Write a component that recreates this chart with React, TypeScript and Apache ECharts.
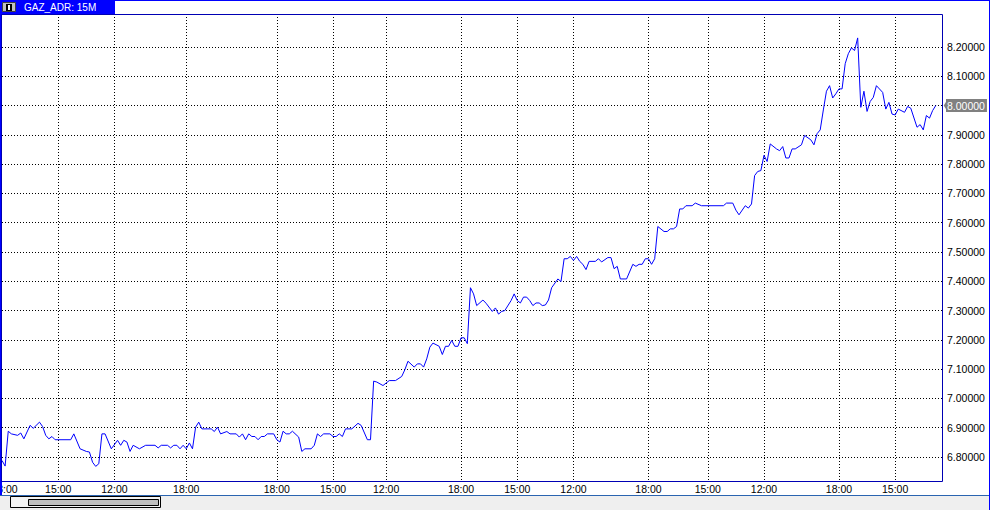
import React, { useEffect, useRef } from 'react';
import * as echarts from 'echarts';

const chartTitle = 'GAZ_ADR: 15M';
const barCount = 302;
const tickBars = [0, 18, 36, 59, 88, 106, 123, 147, 165, 183, 207, 226, 244, 268, 286];
const tickLabels = ['18:00', '15:00', '12:00', '18:00', '18:00', '15:00', '12:00', '18:00', '15:00', '12:00', '18:00', '15:00', '12:00', '18:00', '15:00'];
const priceMin = 6.7;
const priceMax = 8.3;
const priceStep = 0.1;

const barIdx = [
  0, 1, 2, 3, 5, 6, 7, 9, 10, 12, 13, 14, 15, 16, 17, 22, 23, 25, 27, 28, 29, 30, 31, 32, 33, 35, 37, 38, 39, 40,
  41, 42, 44, 46, 49, 50, 51, 53, 54, 55, 56, 57, 58, 59, 60, 61, 62, 63, 64, 67, 68, 69, 70, 72, 73, 75, 76, 77, 78, 79,
  80, 81, 82, 83, 84, 85, 87, 88, 89, 90, 91, 92, 93, 95, 96, 97, 99, 100, 101, 102, 103, 105, 106, 107, 108, 109, 110, 112, 114, 115,
  117, 118, 119, 120, 122, 124, 126, 128, 129, 130, 132, 133, 134, 135, 136, 137, 138, 140, 141, 142, 143, 144, 145, 146, 147, 148, 149, 150, 151, 152,
  154, 155, 157, 158, 159, 160, 161, 163, 164, 165, 166, 167, 168, 169, 170, 171, 172, 173, 174, 175, 176, 178, 179, 180, 181, 182, 183, 184, 185, 186,
  187, 188, 190, 191, 192, 194, 195, 196, 197, 198, 200, 202, 203, 204, 205, 206, 207, 208, 209, 210, 212, 213, 214, 215, 216, 217, 218, 219, 221, 222,
  224, 231, 232, 234, 235, 236, 238, 239, 240, 241, 242, 243, 244, 245, 246, 248, 249, 250, 251, 252, 253, 254, 256, 257, 259, 260, 261, 262, 263, 264,
  265, 266, 267, 268, 269, 270, 271, 272, 273, 274, 275, 276, 277, 278, 279, 280, 282, 283, 284, 285, 286, 287, 289, 290, 291, 293, 294, 295, 296, 297,
  298, 299,
];

const price = [
  6.788, 6.769, 6.888, 6.879, 6.874, 6.882, 6.862, 6.908, 6.898, 6.919, 6.904, 6.874, 6.862, 6.870, 6.859, 6.859, 6.879, 6.828, 6.819, 6.817, 6.782, 6.768, 6.777, 6.879, 6.879, 6.828, 6.857, 6.840, 6.857, 6.851,
  6.819, 6.840, 6.828, 6.840, 6.840, 6.831, 6.840, 6.840, 6.831, 6.840, 6.840, 6.828, 6.840, 6.828, 6.848, 6.828, 6.902, 6.919, 6.896, 6.896, 6.887, 6.902, 6.879, 6.887, 6.879, 6.879, 6.868, 6.879, 6.859, 6.879,
  6.870, 6.870, 6.859, 6.870, 6.870, 6.879, 6.879, 6.859, 6.851, 6.888, 6.879, 6.879, 6.888, 6.868, 6.819, 6.828, 6.828, 6.840, 6.879, 6.870, 6.879, 6.879, 6.870, 6.870, 6.879, 6.870, 6.896, 6.896, 6.915, 6.908,
  6.859, 6.859, 7.059, 7.056, 7.044, 7.061, 7.061, 7.075, 7.098, 7.127, 7.107, 7.118, 7.118, 7.107, 7.135, 7.175, 7.189, 7.178, 7.150, 7.178, 7.178, 7.198, 7.178, 7.178, 7.207, 7.207, 7.187, 7.378, 7.357, 7.317,
  7.336, 7.325, 7.297, 7.309, 7.288, 7.297, 7.300, 7.334, 7.357, 7.334, 7.326, 7.346, 7.346, 7.334, 7.317, 7.326, 7.326, 7.317, 7.319, 7.336, 7.378, 7.408, 7.399, 7.477, 7.477, 7.485, 7.471, 7.485, 7.468, 7.458,
  7.440, 7.468, 7.468, 7.477, 7.466, 7.481, 7.481, 7.443, 7.451, 7.408, 7.408, 7.458, 7.451, 7.458, 7.458, 7.477, 7.477, 7.458, 7.477, 7.587, 7.570, 7.570, 7.579, 7.579, 7.587, 7.647, 7.647, 7.658, 7.658, 7.667,
  7.658, 7.658, 7.667, 7.667, 7.643, 7.627, 7.658, 7.650, 7.664, 7.761, 7.775, 7.778, 7.830, 7.809, 7.869, 7.852, 7.846, 7.860, 7.821, 7.821, 7.852, 7.852, 7.866, 7.898, 7.883, 7.866, 7.904, 7.917, 7.985, 8.049,
  8.068, 8.026, 8.040, 8.057, 8.057, 8.143, 8.177, 8.197, 8.188, 8.231, 7.994, 8.049, 7.980, 8.014, 8.028, 8.068, 8.045, 7.988, 8.011, 7.971, 7.968, 7.988, 7.977, 7.997, 7.991, 7.926, 7.935, 7.917, 7.966, 7.957,
  7.983, 8.000,
];

const FONT = '"Liberation Sans", Arial, sans-serif';

export default function App() {
  const ref = useRef<HTMLDivElement>(null);

  useEffect(() => {
    document.body.style.margin = '0';
    if (!ref.current) return;
    const chart = echarts.init(ref.current, undefined, { renderer: 'svg' });

    const categories = Array.from({ length: barCount }, (_, i) => String(i));
    const tickSet = new Set(tickBars);
    const labelOf: Record<number, string> = {};
    tickBars.forEach((b, k) => (labelOf[b] = tickLabels[k]));

    const lineCount = Math.round((priceMax - priceMin) / priceStep) + 1;
    const gridColors = Array.from({ length: lineCount }, (_, k) =>
      k === 0 || k === lineCount - 1 ? 'rgba(0,0,0,0)' : '#000'
    );

    const seriesData = barIdx.map((b, k) => [b, price[k]]);
    const lastIdx = barIdx[barIdx.length - 1];
    const lastPrice = price[price.length - 1];

    const pxPerUnit = 410 / 1.4;
    const y82 = 47;
    const gTop = y82 - (priceMax - 8.2) * pxPerUnit;
    const gHeight = (priceMax - priceMin) * pxPerUnit;

    chart.setOption({
      animation: false,
      backgroundColor: '#ffffff',
      grid: [
        { left: 2, top: 14, width: 940, height: 467, containLabel: false, outerBoundsMode: 'none' },
        { left: 2, top: gTop, width: 940, height: gHeight, containLabel: false, outerBoundsMode: 'none' },
      ],
      xAxis: [
        {
          gridIndex: 0,
          type: 'category',
          data: categories,
          boundaryGap: false,
          axisLine: { show: false },
          axisTick: { show: false },
          axisLabel: {
            interval: (i: number) => tickSet.has(i),
            formatter: (_v: string, i: number) => (i === 0 ? '{first|' + labelOf[i] + '}' : labelOf[i] ?? ''),
            rich: { first: { padding: [0, 0, 0, 5], fontSize: 10.5, fontFamily: FONT, color: '#000' } },
            fontSize: 10.5,
            fontFamily: FONT,
            color: '#000',
            margin: 2,
            hideOverlap: false,
          },
          splitLine: {
            show: true,
            interval: (i: number) => tickSet.has(i) && i > 0,
            lineStyle: { type: [1, 2], color: '#000', width: 1 },
          },
        },
        {
          gridIndex: 1,
          type: 'category',
          data: categories,
          boundaryGap: false,
          show: false,
        },
      ],
      yAxis: [
        { gridIndex: 0, type: 'value', show: false, min: 0, max: 1, splitLine: { show: false } },
        {
          gridIndex: 1,
          type: 'value',
          position: 'right',
          min: priceMin,
          max: priceMax,
          interval: priceStep,
          axisLine: { show: false },
          axisTick: { show: false },
          axisLabel: {
            formatter: (v: number) =>
              v < priceMin + 0.05 || v > priceMax - 0.05 || Math.abs(v - lastPrice) < 0.005 ? '' : v.toFixed(5),
            fontSize: 10.5,
            fontFamily: FONT,
            color: '#000',
            margin: 5,
          },
          splitLine: {
            show: true,
            lineStyle: { type: [1, 2], color: gridColors, width: 1 },
          },
        },
      ],
      series: [
        {
          type: 'line',
          xAxisIndex: 1,
          yAxisIndex: 1,
          data: seriesData,
          showSymbol: false,
          symbol: 'none',
          clip: false,
          lineStyle: { color: '#0000ff', width: 1 },
          z: 3,
          markLine: {
            silent: true,
            symbol: ['none', 'none'],
            lineStyle: { color: 'rgba(0,0,0,0)', width: 0, type: 'solid' },
            data: [{ yAxis: lastPrice }],
            label: {
              show: true,
              position: 'end',
              distance: 4,
              formatter: () => lastPrice.toFixed(5),
              backgroundColor: '#808080',
              color: '#ffffff',
              padding: [1, 2, 1, 1],
              fontSize: 10.5,
              fontFamily: FONT,
            },
          },
          markPoint: {
            silent: true,
            symbol: 'path://M0,5 L4,0 L4,10 Z',
            symbolSize: [4, 13],
            symbolKeepAspect: false,
            symbolOffset: [10, 0],
            itemStyle: { color: '#808080' },
            label: { show: false },
            data: [{ coord: [lastIdx, lastPrice] }],
          },
        },
      ],
      graphic: [
        { type: 'rect', z: 50, shape: { x: 0, y: 495, width: 990, height: 15 }, style: { fill: '#efefef' } },
        { type: 'line', z: 51, shape: { x1: 0, y1: 495.5, x2: 990, y2: 495.5 }, style: { stroke: '#2a64b0', lineWidth: 1 } },
        { type: 'rect', z: 51, shape: { x: 0, y: 0, width: 2, height: 495 }, style: { fill: '#0000ff' } },
        { type: 'line', z: 51, shape: { x1: 0, y1: 0.5, x2: 990, y2: 0.5 }, style: { stroke: '#0000ff', lineWidth: 1 } },
        { type: 'line', z: 51, shape: { x1: 989.5, y1: 0, x2: 989.5, y2: 510 }, style: { stroke: '#0000ff', lineWidth: 1 } },
        {
          type: 'rect',
          z: 51,
          shape: { x: 1.5, y: 14.5, width: 941, height: 467 },
          style: { fill: 'none', stroke: '#0000b4', lineWidth: 1 },
        },
        { type: 'rect', z: 52, shape: { x: 0, y: 0, width: 115, height: 14 }, style: { fill: '#0000ff' } },
        { type: 'rect', z: 53, shape: { x: 2.5, y: 2.5, width: 13, height: 9 }, style: { fill: '#c0c0c0', stroke: '#404040', lineWidth: 1 } },
        { type: 'rect', z: 54, shape: { x: 6, y: 4, width: 6, height: 7 }, style: { fill: '#000000' } },
        { type: 'rect', z: 55, shape: { x: 8, y: 5, width: 2, height: 5 }, style: { fill: '#ffffff' } },
        {
          type: 'text',
          z: 55,
          x: 24,
          y: 7,
          style: {
            text: chartTitle,
            fill: '#ffffff',
            font: '10px "Liberation Sans", Arial, sans-serif',
            verticalAlign: 'middle',
            align: 'left',
          },
        },
        {
          type: 'rect',
          z: 53,
          shape: { x: 10.5, y: 496.5, width: 150, height: 11 },
          style: { fill: '#f4f4f4', stroke: '#000000', lineWidth: 1 },
        },
        {
          type: 'rect',
          z: 54,
          shape: { x: 28.5, y: 499.5, width: 130, height: 6 },
          style: { fill: '#c0c0c0', stroke: '#000000', lineWidth: 1 },
        },
      ],
    });

    return () => chart.dispose();
  }, []);

  return <div ref={ref} style={{ width: 990, height: 510 }} />;
}
